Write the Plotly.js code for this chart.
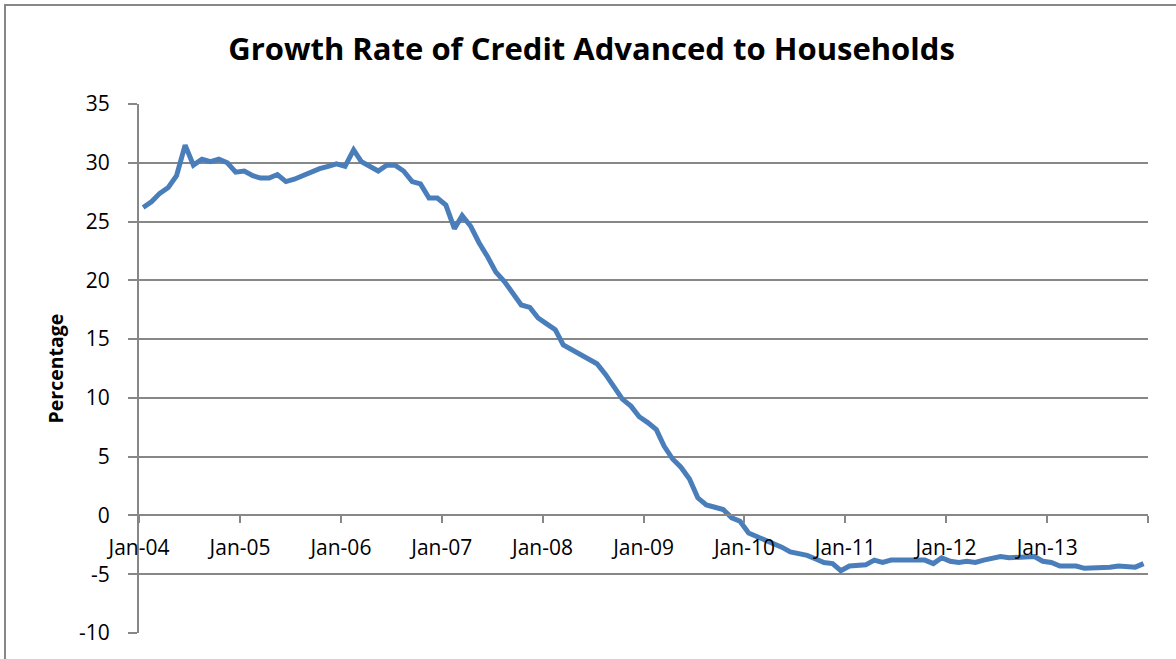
<!DOCTYPE html>
<html>
<head>
<meta charset="utf-8">
<script src="https://cdn.plot.ly/plotly-3.0.1.min.js"></script>
<style>
  html, body { margin: 0; padding: 0; background: #fff; overflow: hidden; }
  #frame { position: absolute; left: 4px; top: 4px; width: 1300px; height: 800px; border: 2px solid #878787; box-sizing: border-box; }
  #chart { position: absolute; left: 0; top: 0; width: 1176px; height: 659px; }
</style>
</head>
<body>
<div id="frame"></div>
<div id="chart"></div>
<script>
// Monthly growth rate (%) of credit advanced to households, Jan-2004 .. Dec-2013
const years = [2004, 2005, 2006, 2007, 2008, 2009, 2010, 2011, 2012, 2013];
const growth2004 = [26.2, 26.7, 27.4, 27.9, 28.9, 31.5, 29.8, 30.3, 30.1, 30.3, 30.0, 29.2];
const growth2005 = [29.3, 28.9, 28.7, 28.7, 29.0, 28.4, 28.6, 28.9, 29.3, 29.5, 29.7, 29.9];
const growth2006 = [29.7, 31.1, 30.1, 29.7, 29.3, 29.8, 29.8, 29.3, 28.4, 28.2, 27.0, 27.0];
const growth2007 = [26.4, 24.4, 25.5, 24.6, 23.2, 22.0, 20.7, 19.9, 18.9, 17.9, 17.7, 16.8];
const growth2008 = [16.3, 15.8, 14.5, 14.1, 13.6, 13.3, 12.9, 12.0, 10.9, 9.9, 9.3, 8.4];
const growth2009 = [7.9, 7.3, 5.9, 4.8, 4.1, 3.1, 1.5, 0.9, 0.7, 0.5, -0.2, -0.5];
const growth2010 = [-1.5, -1.8, -2.0, -2.4, -2.7, -3.1, -3.2, -3.4, -3.7, -4.0, -4.1, -4.7];
const growth2011 = [-4.3, -4.3, -4.2, -3.8, -4.0, -3.8, -3.8, -3.9, -3.9, -3.8, -4.1, -3.6];
const growth2012 = [-3.9, -4.0, -3.9, -4.0, -3.8, -3.7, -3.5, -3.6, -3.6, -3.6, -3.5, -3.9];
const growth2013 = [-4.0, -4.3, -4.3, -4.3, -4.5, -4.5, -4.4, -4.4, -4.3, -4.3, -4.4, -4.1];
const tickLabels = ["Jan-04", "Jan-05", "Jan-06", "Jan-07", "Jan-08", "Jan-09", "Jan-10", "Jan-11", "Jan-12", "Jan-13", ""];
const yTicks = [-10, -5, 0, 5, 10, 15, 20, 25, 30, 35];
const yTickLabels = ["-10", "-5", "0", "5", "10", "15", "20", "25", "30", "35"];

const yearly = [growth2004, growth2005, growth2006, growth2007, growth2008, growth2009, growth2010, growth2011, growth2012, growth2013];
const xs = [], ys = [];
years.forEach((yr, k) => {
  yearly[k].forEach((v, m) => {
    xs.push(yr + '-' + String(m + 1).padStart(2, '0') + '-16');
    ys.push(v);
  });
});
const tickVals = [];
for (let yr = years[0]; yr <= years[years.length - 1] + 1; yr++) tickVals.push(yr + '-01-01');

const yMin = -10, yMax = 35;
const font = "'Open Sans', sans-serif";
const grid = '#878787';

Plotly.newPlot('chart', [{
  x: xs, y: ys, type: 'scatter', mode: 'lines',
  line: { color: '#4a7ebb', width: 5, shape: 'linear' },
  hoverinfo: 'x+y'
}], {
  width: 1176, height: 659,
  paper_bgcolor: 'rgba(0,0,0,0)', plot_bgcolor: 'rgba(0,0,0,0)',
  margin: { l: 139, r: 28, t: 104, b: 26 },
  showlegend: false,
  title: { text: '<b>Growth Rate of Credit Advanced to Households</b>', font: { family: font, size: 31, color: '#000' }, x: 0.503, xanchor: 'center', y: 0.925, yanchor: 'middle' },
  xaxis: {
    type: 'date', range: [tickVals[0], tickVals[tickVals.length - 1]],
    tickmode: 'array', tickvals: tickVals, ticktext: tickLabels,
    anchor: 'free', position: (0 - yMin) / (yMax - yMin),
    showline: true, linecolor: grid, linewidth: 2,
    ticks: 'outside', ticklen: 7, tickwidth: 2, tickcolor: grid,
    ticklabelstandoff: 6,
    showgrid: false, zeroline: false,
    tickfont: { family: font, size: 21, color: '#000' }
  },
  yaxis: {
    range: [yMin, yMax], domain: [0, 1],
    tickmode: 'array', tickvals: yTicks, ticktext: yTickLabels,
    showline: true, linecolor: grid, linewidth: 2,
    ticks: 'outside', ticklen: 9, tickwidth: 2, tickcolor: grid,
    ticklabelstandoff: 14,
    showgrid: true, gridcolor: grid, gridwidth: 2,
    zeroline: false,
    tickfont: { family: font, size: 21, color: '#000' },
    title: { text: '<b>Percentage</b>', font: { family: font, size: 19.5, color: '#000' }, standoff: 10 }
  }
}, { displayModeBar: false, staticPlot: true });
</script>
</body>
</html>
